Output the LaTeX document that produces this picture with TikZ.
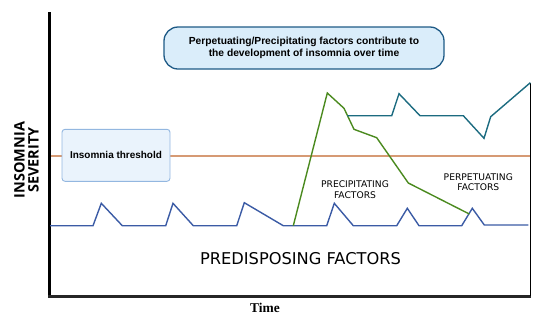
\documentclass[tikz,border=0pt]{standalone}
\usepackage{fontspec}
\setmainfont{Liberation Sans}
\newfontfamily\labfont{DejaVu Sans}
\newfontfamily\ylabfont{Open Sans}
\newfontfamily\timefont{Liberation Serif}
\definecolor{titlefill}{HTML}{DAEDFA}
\definecolor{titledraw}{HTML}{1E5A86}
\definecolor{thrfill}{HTML}{EAF3FC}
\definecolor{thrdraw}{HTML}{93B7E0}
\definecolor{thrline}{HTML}{D69A74}
\definecolor{predblue}{HTML}{3B5BA5}
\definecolor{precgreen}{HTML}{4B8A1F}
\definecolor{perpteal}{HTML}{1C6B80}
\begin{document}
\begin{tikzpicture}[x=1bp,y=-1bp,
  curve/.style={line width=1.4bp,line join=miter},
  smalllab/.style={font=\labfont\fontsize{9.2}{10.7}\selectfont,align=center},
]
\useasboundingbox (0,0) rectangle (550,334);
% threshold line
\draw[draw=thrline,line width=1.6bp] (50,155.7) -- (530,155.7);
% axes
\draw[line width=3bp,black] (49.5,12) -- (49.5,296);
\draw[line width=3bp,black!85] (48,296) -- (531,296);
\draw[line width=1.4bp,black] (530.3,82.7) -- (530.3,296);
% title
\node[draw=titledraw,fill=titlefill,line width=1.3bp,rounded corners=14bp,
  minimum width=280bp,minimum height=42bp,align=center,
  font=\bfseries\fontsize{10.3}{12}\selectfont] (title) at (304,48)
  {Perpetuating/Precipitating factors contribute to\\the development of insomnia over time};
% threshold box
\node[draw=thrdraw,fill=thrfill,line width=0.9bp,rounded corners=3bp,
  minimum width=108bp,minimum height=52bp,
  font=\bfseries\fontsize{10}{11}\selectfont] (thr) at (116,155.3) {Insomnia threshold};
% y label
\node[rotate=90,align=center,font=\ylabfont\bfseries\fontsize{14.5}{14}\selectfont] (ylab) at (26.5,160)
  {INSOMNIA\\SEVERITY};
% predisposing
\draw[predblue,curve] (50,225.7) -- (93,225.7) -- (101.3,203.3) -- (122.3,225.7) -- (165.7,225.7)
  -- (173,203.3) -- (193.3,225.7) -- (236.7,225.7) -- (244.3,202.7) -- (283.3,225.7)
  -- (326.7,225.7) -- (334.3,203.3) -- (353.3,225.7) -- (396.7,225.7) -- (407.3,208.3)
  -- (419,225.7) -- (461.7,225.7) -- (472.3,208.3) -- (484.3,225) -- (528.3,225);
% precipitating
\draw[precgreen,curve] (293.3,225.7) -- (327.3,93) -- (344,108.3) -- (354,129.3) -- (376.7,137.7)
  -- (408.3,183) -- (469.3,214);
% perpetuating
\draw[perpteal,curve] (347.3,115.7) -- (391.7,115.7) -- (399,93.7) -- (420,115.7) -- (463.3,115.7)
  -- (484,138.3) -- (490.7,116.7) -- (530.3,82.7);
% labels
\node[smalllab] (prec) at (355,189.5) {PRECIPITATING\\FACTORS};
\node[smalllab] (perp) at (478.3,182) {PERPETUATING\\FACTORS};
\node[font=\labfont\fontsize{16.3}{20}\selectfont] (pred) at (300.5,258.3) {PREDISPOSING FACTORS};
\node[font=\timefont\bfseries\fontsize{13.5}{15}\selectfont] (time) at (265,308) {Time};
\end{tikzpicture}
\end{document}
